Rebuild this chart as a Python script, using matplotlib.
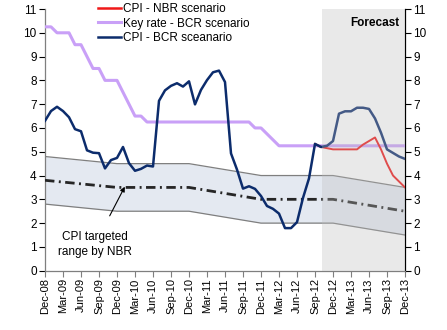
import matplotlib
matplotlib.use("Agg")
import matplotlib.pyplot as plt
import numpy as np

plt.rcParams['font.family'] = ['Liberation Sans', 'DejaVu Sans']

# ---- data ----
tick_labels = ["Dec-08", "Mar-09", "Jun-09", "Sep-09", "Dec-09", "Mar-10", "Jun-10",
               "Sep-10", "Dec-10", "Mar-11", "Jun-11", "Sep-11", "Dec-11", "Mar-12",
               "Jun-12", "Sep-12", "Dec-12", "Mar-13", "Jun-13", "Sep-13", "Dec-13"]

months = np.arange(61)  # Dec-08 .. Dec-13

key_rate = [10.25, 10.25, 10.0, 10.0, 10.0, 9.5, 9.5, 9.0, 8.5, 8.5,
            8.0, 8.0, 8.0, 7.5, 7.0, 6.5, 6.5, 6.25, 6.25, 6.25,
            6.25, 6.25, 6.25, 6.25, 6.25, 6.25, 6.25, 6.25, 6.25, 6.25,
            6.25, 6.25, 6.25, 6.25, 6.25, 6.0, 6.0, 5.75, 5.5, 5.25,
            5.25, 5.25, 5.25, 5.25, 5.25, 5.25, 5.25, 5.25, 5.25, 5.25,
            5.25, 5.25, 5.25, 5.25, 5.25, 5.25, 5.25, 5.25, 5.25, 5.25, 5.25]

cpi_bcr = [6.30, 6.71, 6.89, 6.71, 6.45, 5.95, 5.86, 5.06, 4.96, 4.94,
           4.30, 4.65, 4.74, 5.20, 4.52, 4.20, 4.28, 4.42, 4.38, 7.14,
           7.58, 7.77, 7.88, 7.74, 7.96, 6.99, 7.60, 8.01, 8.34, 8.41,
           7.93, 4.93, 4.25, 3.45, 3.55, 3.44, 3.14, 2.72, 2.60, 2.40,
           1.79, 1.79, 2.04, 3.06, 3.88, 5.33, 5.20, 5.25, 5.45, 6.60,
           6.70, 6.70, 6.85, 6.85, 6.80, 6.40, 5.80, 5.10, 4.95, 4.80, 4.70]

nbr_months = np.arange(45, 61)
cpi_nbr = [5.33, 5.20, 5.15, 5.10, 5.10, 5.10, 5.10, 5.10, 5.30, 5.45,
           5.60, 5.10, 4.50, 4.00, 3.75, 3.50]

target_months = [0, 12, 24, 36, 48, 60]
target_center = [3.8, 3.5, 3.5, 3.0, 3.0, 2.5]
target_tol = [1.0, 1.0, 1.0, 1.0, 1.0, 1.0]

forecast_start = 46.2

# ---- figure ----
fig = plt.figure(figsize=(4.47, 3.30), dpi=100)
ax = fig.add_axes([45/447, 1-270.7/330, 360/447, (270.7-9)/330])

tc = np.array(target_center)
tt = np.array(target_tol)
ax.fill_between(target_months, tc - tt, tc + tt, color='#e4e9f1', zorder=1, lw=0)
ax.plot(target_months, tc + tt, color='#7f7f7f', lw=0.9, zorder=2)
ax.plot(target_months, tc - tt, color='#7f7f7f', lw=0.9, zorder=2)
ax.plot(target_months, tc, color='#262626', lw=2.0, zorder=3,
        linestyle=(0, (3.4, 1.6, 0.7, 1.6)))

ax.plot(months, key_rate, color='#c9a0f7', lw=2.2, zorder=4, solid_joinstyle='round')
ax.plot(nbr_months, cpi_nbr, color='#f01818', lw=1.4, zorder=5, solid_joinstyle='round')
ax.plot(months, cpi_bcr, color='#0c2c6c', lw=1.8, zorder=6, solid_joinstyle='round')

# forecast shading overlay
ax.axvspan(forecast_start, 60, color='#bdbdbd', alpha=0.32, lw=0, zorder=7)
ax.text(55, 10.42, "Forecast", ha='center', va='center', fontsize=8.5,
        fontweight='bold', zorder=8)

# annotation
ax.annotate("CPI targeted\nrange by NBR", xy=(13.3, 3.53), xytext=(8.3, 1.1),
            ha='center', va='center', fontsize=8.5, linespacing=1.35,
            arrowprops=dict(arrowstyle='-|>', color='black', lw=0.8,
                            shrinkA=10, shrinkB=0, mutation_scale=7),
            zorder=9)

# legend
from matplotlib.lines import Line2D
handles = [Line2D([], [], color='#f01818', lw=1.8),
           Line2D([], [], color='#c9a0f7', lw=2.2),
           Line2D([], [], color='#0c2c6c', lw=1.8)]
labels = ["CPI - NBR scenario", "Key rate - BCR scenario", "CPI - BCR sceanario"]
ax.legend(handles, labels, loc='upper left', bbox_to_anchor=(0.135, 1.04),
          frameon=False, fontsize=8.5, handlelength=1.9, handletextpad=0.15,
          labelspacing=0.2, borderaxespad=0)

# axes formatting
ax.set_xlim(0, 60)
ax.set_ylim(0, 11)
ax.set_yticks(range(0, 12))
ax.set_xticks(range(0, 61, 3))
ax.set_xticklabels(tick_labels, rotation=90, fontsize=8)
ax.tick_params(axis='y', labelsize=8.5, left=True, right=True, labelleft=True,
               labelright=True, direction='out', length=4, width=0.8, pad=2)
ax.tick_params(axis='x', direction='out', length=4, width=0.8, pad=1.5,
               color='#7f7f7f')
ax.spines['top'].set_visible(False)
ax.spines['left'].set_color('#7f7f7f')
ax.spines['bottom'].set_color('#7f7f7f')
ax.spines['right'].set_color('black')
for s in ax.spines.values():
    s.set_linewidth(0.9)

fig.savefig("out.png", dpi=100)
